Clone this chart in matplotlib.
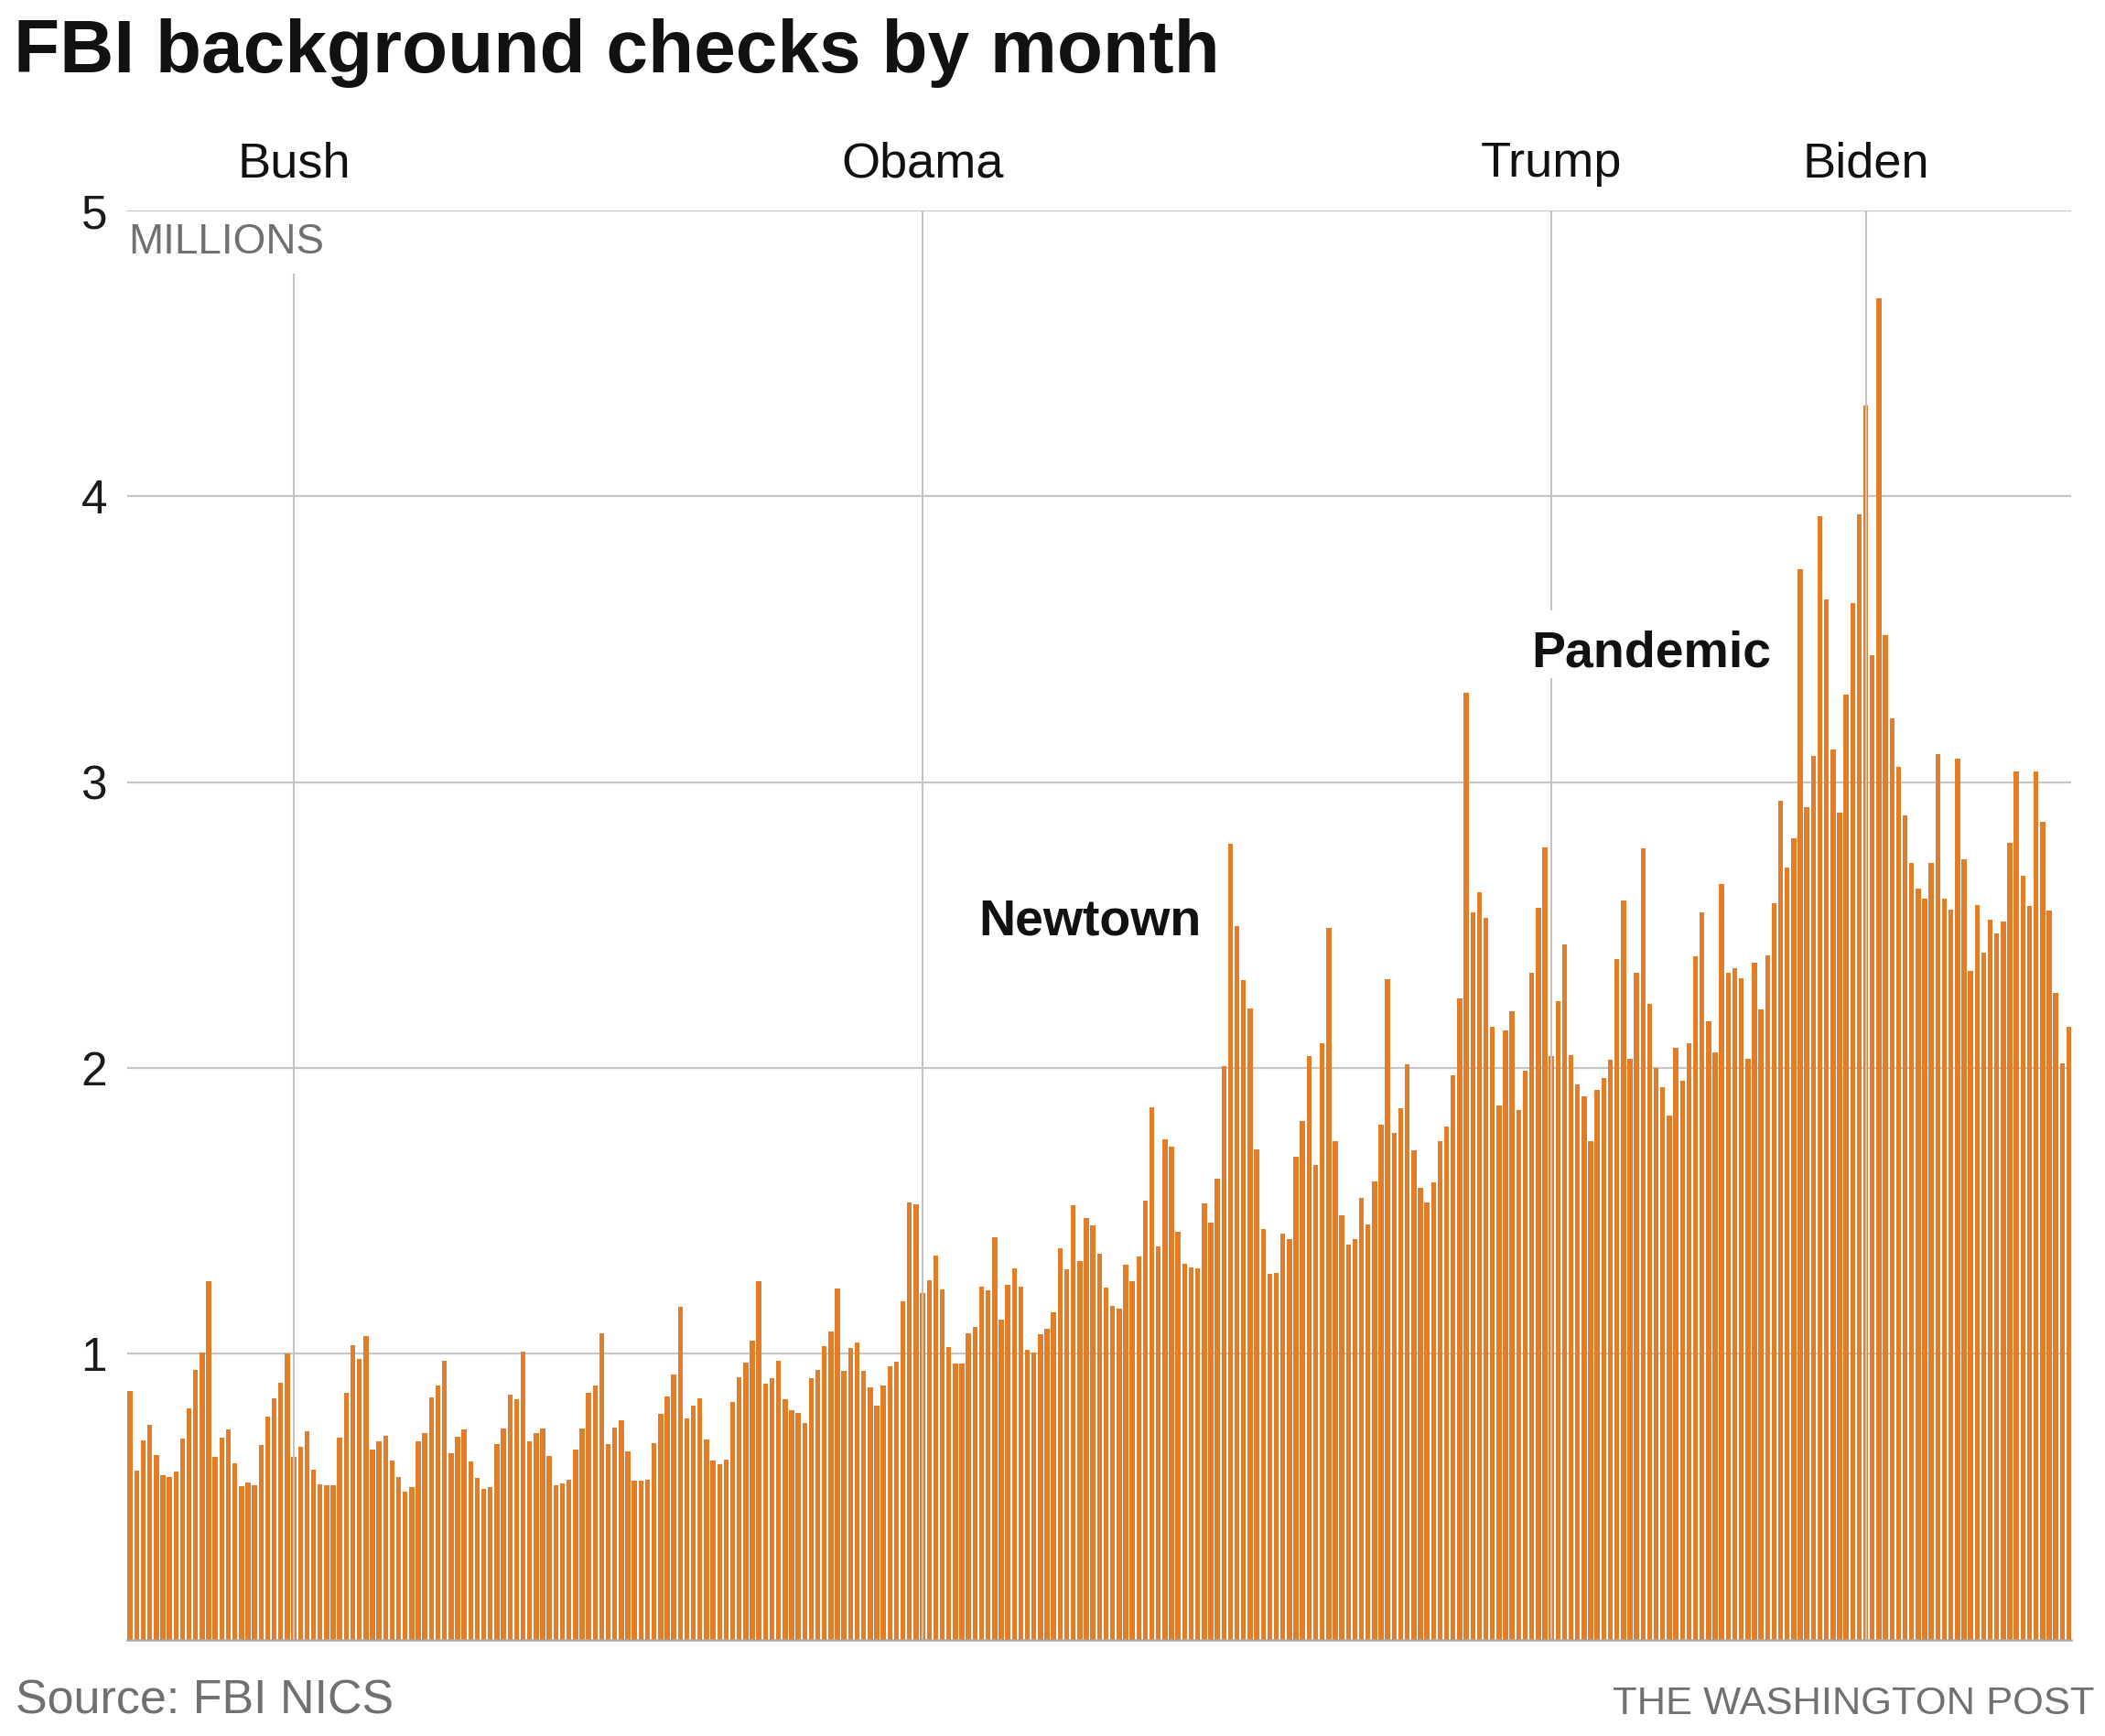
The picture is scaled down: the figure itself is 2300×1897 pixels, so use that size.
#! /usr/bin/env python

#Monthly FBI NICS background checks, Dec 1998 - Aug 2023, in millions

import numpy as np
import pandas as pd
import matplotlib
matplotlib.use('Agg')
import matplotlib.pyplot as plt
from matplotlib import font_manager

#Values, millions of checks per month
#Dec 1998 - Dec 2000
clinton = [0.871, 0.591, 0.696, 0.752, 0.647, 0.575, 0.569, 0.588, 0.702, 0.808, 0.944, 1.004, 1.253,
           0.638, 0.706, 0.735, 0.617, 0.537, 0.549, 0.541, 0.681, 0.781, 0.845, 0.897, 1.000]
#Jan 2001 - Dec 2008
bush = [0.638, 0.674, 0.728, 0.594, 0.543, 0.540, 0.539, 0.706, 0.863, 1.029, 0.982, 1.062,
        0.664, 0.694, 0.714, 0.626, 0.569, 0.516, 0.534, 0.692, 0.722, 0.848, 0.888, 0.974,
        0.652, 0.708, 0.735, 0.622, 0.565, 0.528, 0.532, 0.683, 0.737, 0.856, 0.842, 1.007,
        0.694, 0.722, 0.737, 0.641, 0.541, 0.545, 0.560, 0.665, 0.739, 0.864, 0.890, 1.072,
        0.684, 0.741, 0.767, 0.657, 0.556, 0.555, 0.560, 0.686, 0.790, 0.851, 0.926, 1.163,
        0.775, 0.820, 0.844, 0.699, 0.625, 0.614, 0.629, 0.832, 0.918, 0.969, 1.045, 1.253,
        0.894, 0.914, 0.975, 0.840, 0.801, 0.792, 0.757, 0.916, 0.943, 1.025, 1.078, 1.228,
        0.941, 1.020, 1.039, 0.939, 0.884, 0.818, 0.890, 0.955, 0.972, 1.182, 1.529, 1.523]
#Jan 2009 - Dec 2016
obama = [1.212, 1.258, 1.344, 1.224, 1.022, 0.967, 0.966, 1.073, 1.093, 1.234, 1.222, 1.407,
         1.118, 1.242, 1.299, 1.234, 1.015, 1.005, 1.069, 1.089, 1.145, 1.368, 1.297, 1.520,
         1.323, 1.474, 1.449, 1.350, 1.231, 1.167, 1.157, 1.311, 1.254, 1.341, 1.535, 1.862,
         1.376, 1.749, 1.726, 1.427, 1.315, 1.302, 1.300, 1.525, 1.459, 1.614, 2.005, 2.783,
         2.496, 2.309, 2.209, 1.714, 1.435, 1.281, 1.283, 1.419, 1.401, 1.688, 1.813, 2.041,
         1.660, 2.086, 2.490, 1.743, 1.484, 1.383, 1.401, 1.546, 1.454, 1.603, 1.803, 2.311,
         1.772, 1.859, 2.012, 1.712, 1.580, 1.528, 1.600, 1.745, 1.794, 1.975, 2.242, 3.314,
         2.545, 2.614, 2.524, 2.145, 1.870, 2.131, 2.197, 1.853, 1.991, 2.332, 2.561, 2.771]
#Jan 2017 - Dec 2020
trump = [2.041, 2.234, 2.433, 2.044, 1.943, 1.901, 1.743, 1.924, 1.966, 2.030, 2.382, 2.586,
         2.031, 2.332, 2.767, 2.223, 2.001, 1.934, 1.834, 2.072, 1.956, 2.086, 2.392, 2.544,
         2.164, 2.053, 2.644, 2.334, 2.348, 2.313, 2.031, 2.367, 2.206, 2.393, 2.575, 2.936,
         2.702, 2.803, 3.745, 2.911, 3.092, 3.932, 3.640, 3.115, 2.893, 3.306, 3.628, 3.938]
#Jan 2021 - Aug 2023
biden = [4.319, 3.444, 4.694, 3.514, 3.222, 3.055, 2.884, 2.717, 2.627, 2.593, 2.717, 3.099,
         2.592, 2.555, 3.082, 2.729, 2.340, 2.571, 2.404, 2.518, 2.471, 2.511, 2.789, 3.036,
         2.673, 2.567, 3.036, 2.861, 2.552, 2.263, 2.015, 2.144]

presidents = ['Bush', 'Obama', 'Trump', 'Biden']
pres_start = ['2001-01', '2009-01', '2017-01', '2021-01']
yticks = [1, 2, 3, 4, 5]
#labels sit to the left of the spike they name
events = ['Newtown', 'Pandemic']
event_month = ['2009-10', '2016-10']
event_y = [2.465, 3.404]

checks = np.array(clinton + bush + obama + trump + biden)
months = pd.date_range('1998-12-01', periods=len(checks), freq='MS')
idx = np.arange(len(checks))

def month_idx(s):
    return months.get_loc(pd.Timestamp(s + '-01'))

orange = '#e27d2a'
grid_c = '#c6c6c6'
txt_gray = '#6f7073'

fonts = set(f.name for f in font_manager.fontManager.ttflist)
base = 'Liberation Sans' if 'Liberation Sans' in fonts else 'DejaVu Sans'
if 'Liberation Sans Narrow' in fonts:
    narrow, nscale = 'Liberation Sans Narrow', 1.0
else:
    narrow, nscale = base, 0.87
plt.rcParams['font.family'] = base

fig = plt.figure(figsize=(23, 18.97), dpi=100)
ax = fig.add_axes([0.06057, 0.05556, 0.92348, 0.82314])

ax.bar(idx, checks, width=0.76, color=orange, edgecolor='none', zorder=2)

ax.set_xlim(-0.4, len(checks) - 0.6)
ax.set_ylim(0, 5)
ax.set_yticks(yticks)
ax.set_yticklabels([str(t) for t in yticks])
ax.yaxis.grid(True, color=grid_c, lw=1.6)
ax.set_axisbelow(True)
ax.set_xticks([])
ax.tick_params(axis='y', length=0, pad=16, labelsize=37, labelcolor='#1a1a1a')
for s in ['top', 'right', 'left']:
    ax.spines[s].set_visible(False)
ax.spines['bottom'].set_color('#a8a8a8')
ax.spines['bottom'].set_linewidth(1.8)
ax.spines['bottom'].set_zorder(4)

#Administration lines, drawn over the bars
vl = dict(color='#c3c3c3', lw=1.5, zorder=3)
for name, start in zip(presidents, pres_start):
    xi = month_idx(start)
    if name == 'Bush':
        ax.vlines(xi, 0, 4.78, **vl)
    elif name == 'Trump':
        #gap for the Pandemic label
        ax.vlines(xi, 3.60, 5, **vl)
        ax.vlines(xi, 0, 3.364, **vl)
    else:
        ax.vlines(xi, 0, 5, **vl)
    ax.text(xi, 5.118, name, ha='center', va='baseline', fontsize=39, color='#111111', clip_on=False)

ax.text(-0.2, 4.851, 'MILLIONS', ha='left', va='baseline', fontsize=33, color=txt_gray)

for lab, m, y, dx in zip(events, event_month, event_y, [-0.5, -0.1]):
    ax.text(month_idx(m) + dx, y, lab, ha='left', va='baseline', fontsize=40,
            fontweight='bold', color='#111111', zorder=5)

fig.text(0.0065, 0.9584, 'FBI background checks by month', ha='left', va='baseline',
         fontsize=59, fontweight='bold', color='#111111')
fig.text(0.0072, 0.0127, 'Source: FBI NICS', ha='left', va='baseline',
         fontsize=43 * nscale, family=narrow, color=txt_gray)
fig.text(0.9948, 0.0127, 'THE WASHINGTON POST', ha='right', va='baseline',
         fontsize=36 * nscale, family=narrow, color=txt_gray)

fig.savefig('out.png', dpi=100, facecolor='white')
